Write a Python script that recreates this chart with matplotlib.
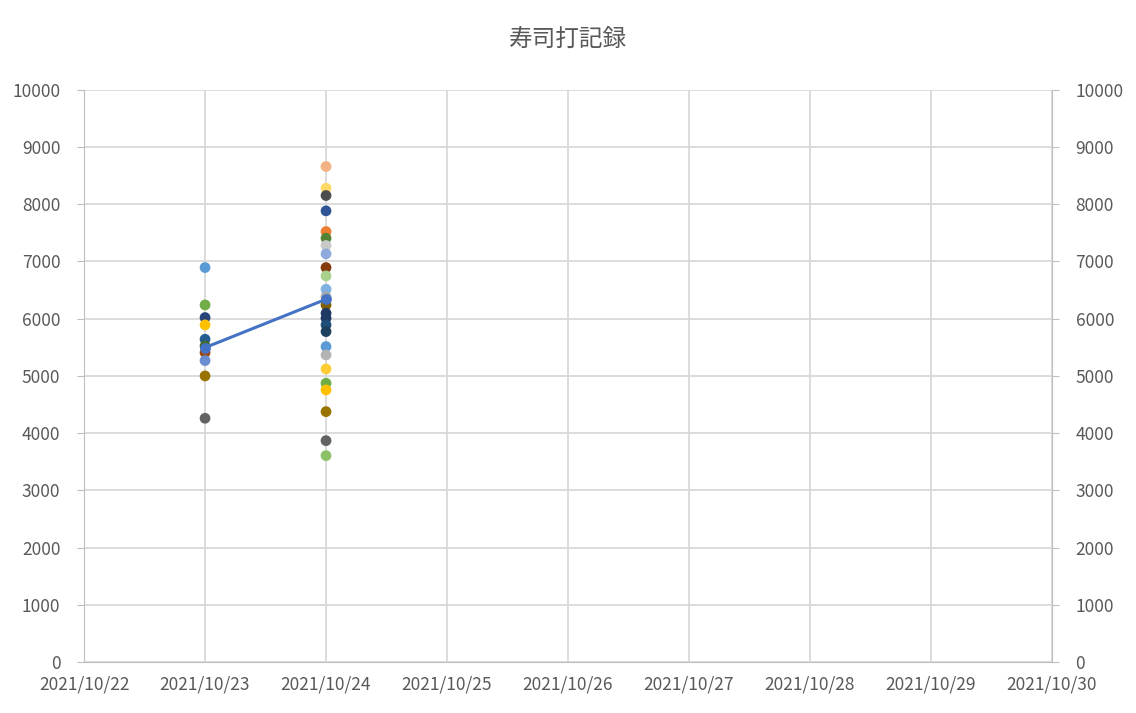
import matplotlib
matplotlib.use("Agg")
import matplotlib.pyplot as plt
import matplotlib.dates as mdates
import numpy as np
import datetime as dt

plt.rcParams['font.family'] = ['Noto Sans CJK JP', 'DejaVu Sans']

title = "寿司打記録"
day1 = dt.date(2021, 10, 23)
day2 = dt.date(2021, 10, 24)
vals1 = [6894, 6241, 6020, 5892, 5641, 5524, 5408, 5268, 5000, 4260]
cols1 = ["#5B9BD5", "#70AD47", "#264478", "#FFC000", "#255E91", "#43682B", "#9E480E", "#698ED0", "#997300", "#636363"]
vals2 = [8660, 8281, 8153, 7885, 7523, 7407, 7279, 7133, 6894, 6748, 6515, 6380, 6241, 6096, 6008, 5892, 5775,
         5513, 5367, 5122, 4872, 4755, 4376, 3869, 3607]
cols2 = ["#F4B183", "#FFD966", "#4D4D4D", "#2F5597", "#ED7D31", "#548235", "#C9C9C9", "#8FAADC", "#843C0C", "#A9D18E",
         "#7FB2E0", "#A5A5A5", "#7F6000", "#1F3864", "#203864", "#1F4E79", "#1F3F5F",
         "#5B9BD5", "#B4B4B4", "#FFCD33", "#70AD47", "#FFC000", "#997300", "#636363", "#8CC168"]
mean_dates = [day1, day2]
mean_vals = [5495, 6340]

fig = plt.figure(figsize=(11.36, 7.13), dpi=100)
ax = fig.add_axes([0.074, 0.0715, 0.852, 0.8025])
for d, vs, cs in [(day1, vals1, cols1), (day2, vals2, cols2)]:
    ax.scatter([d] * len(vs), vs, c=cs, s=60, zorder=3, linewidths=0)
ax.plot(mean_dates, mean_vals, color="#4472C4", lw=2.2, zorder=4)
ax.scatter(mean_dates, mean_vals, color="#4472C4", s=60, zorder=5, linewidths=0)

ax.set_xlim(dt.date(2021, 10, 22), dt.date(2021, 10, 30))
ax.set_ylim(0, 10000)
ax.set_yticks(np.arange(0, 10001, 1000))
ax.xaxis.set_major_locator(mdates.DayLocator())
ax.xaxis.set_major_formatter(mdates.DateFormatter("%Y/%m/%d"))
ax.grid(True, color="#D9D9D9", lw=1.3)
ax.set_axisbelow(True)
for s in ax.spines.values():
    s.set_visible(False)
ax.spines['bottom'].set_visible(True)
ax.spines['bottom'].set_color("#BFBFBF")
ax.spines['left'].set_visible(True)
ax.spines['left'].set_color("#BFBFBF")
ax.tick_params(axis='both', colors="#595959", labelsize=12.5, length=5, color="#BFBFBF")
ax.tick_params(axis='x', length=0, pad=10)
ax.tick_params(axis='y', pad=12)
ax2 = ax.twinx()
ax2.set_ylim(0, 10000)
ax2.set_yticks(np.arange(0, 10001, 1000))
for s in ax2.spines.values():
    s.set_visible(False)
ax2.spines['right'].set_visible(True)
ax2.spines['right'].set_color("#BFBFBF")
ax2.tick_params(axis='y', colors="#595959", labelsize=12.5, length=5, color="#BFBFBF", pad=12)
fig.text(0.5, 0.945, title, ha='center', va='center', fontsize=17, color="#595959")
fig.savefig("out.png", dpi=100)
